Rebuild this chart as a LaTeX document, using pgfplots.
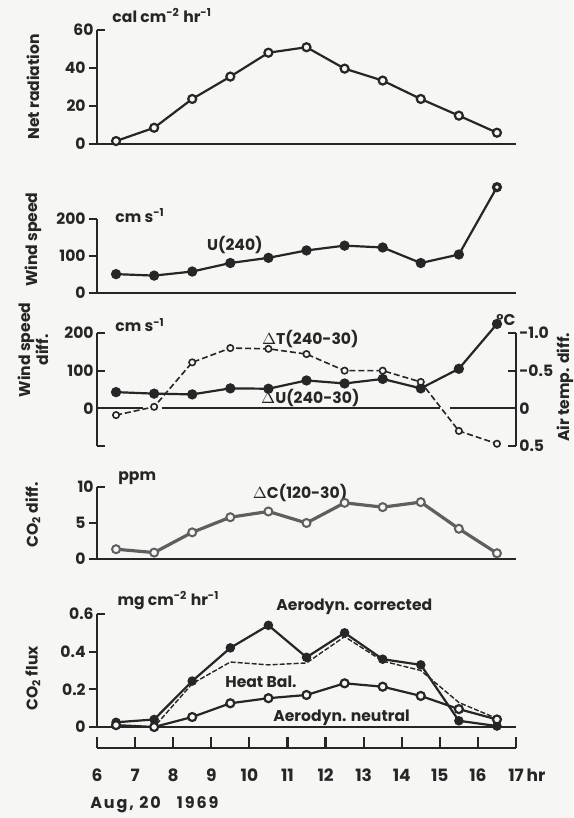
\documentclass[border=0pt]{standalone}
\usepackage{fontspec}
\setmainfont{Poppins}
\usepackage{pgfplots}
\pgfplotsset{compat=1.18}
\definecolor{ink}{RGB}{38,38,38}
\definecolor{paper}{RGB}{246,246,244}
\definecolor{co2}{RGB}{95,95,95}

\pgfplotsset{
  panel/.style={
    scale only axis, width=209.5pt, anchor=south west,
    xmin=6, xmax=17, xtick=\empty, clip=false,
    axis x line*=bottom, axis y line*=left,
    axis line style={-, line width=1.1pt, draw=ink},
    tick style={line width=1.1pt, draw=ink},
    major tick length=4pt, tick align=outside,
    yticklabel style={font=\bfseries\fontsize{7.8}{9}\selectfont, text=ink, inner sep=1.5pt},
    every axis plot/.append style={line width=1.1pt, ink},
    mark size=2pt,
  },
  topbracket/.style={extra y ticks={#1}, extra y tick labels={#1},
    extra y tick style={tick align=inside}},
}
\tikzset{lab/.style={font=\bfseries\fontsize{7.8}{9}\selectfont, text=ink, inner sep=0pt}}

\begin{document}
\begin{tikzpicture}
\path[use as bounding box, fill=paper] (0,0) rectangle (286.5pt,409pt);

% net radiation
\begin{axis}[panel, at={(48.5pt,337.15pt)}, height=56.85pt,
  ymin=0, ymax=60, ytick={0,20,40}, yticklabels={0,20,40}, topbracket=60]
\addplot[mark=*, mark options={fill=paper}] coordinates {
  (6.5,1.4) (7.5,8.4) (8.5,23.6) (9.5,35.4) (10.5,48.0) (11.5,50.9)
  (12.5,39.6) (13.5,33.3) (14.5,23.6) (15.5,14.8) (16.5,5.8)};
\node[lab, rotate=90] at (rel axis cs:-0.153,0.5) {Net radiation};
\node[lab, anchor=west] at (rel axis cs:0.036,1.13) {cal cm\textsuperscript{-2} hr\textsuperscript{-1}};
\end{axis}

% wind speed
\begin{axis}[panel, at={(48.5pt,262.5pt)}, height=37pt,
  ymin=0, ymax=200, ytick={0,100,200}, yticklabels={0,100,200}]
\addplot[mark=*] coordinates {
  (6.5,51) (7.5,47) (8.5,58) (9.5,81) (10.5,95) (11.5,115)
  (12.5,128) (13.5,123) (14.5,81) (15.5,104) (16.5,286)};
\addplot[only marks, mark=*, mark size=1.5pt, mark options={fill=paper}] coordinates {(16.5,286)};
\node[lab, rotate=90] at (rel axis cs:-0.153,0.72) {Wind speed};
\node[lab, anchor=west] at (rel axis cs:0.043,1.05) {cm s\textsuperscript{-1}};
\node[lab] at (axis cs:9.62,130) {U(240)};
\end{axis}

% wind speed difference (left scale)
\begin{axis}[panel, at={(48.5pt,186pt)}, height=56.5pt,
  axis x line=none, tick align=inside,
  ymin=-100, ymax=200, ytick={-100,0,100,200}, yticklabels={,0,100,200}]
\addplot[no marks] coordinates {(6,0) (7.2,0)};
\addplot[no marks] coordinates {(7.7,0) (15.0,0)};
\addplot[no marks] coordinates {(15.27,0) (16.9,0)};
\addplot[mark=*] coordinates {
  (6.5,43) (7.5,39) (8.5,37) (9.5,53) (10.5,52) (11.5,74)
  (12.5,66) (13.5,78) (14.5,53) (15.5,105) (16.5,224)};
\node[lab, rotate=90, align=center] at (rel axis cs:-0.153,0.85) {Wind speed\\diff.};
\node[lab, anchor=west] at (rel axis cs:0.043,1.07) {cm s\textsuperscript{-1}};
\node[lab] at (axis cs:11.6,183) {$\Delta$T(240-30)};
\node[lab, anchor=south] at (axis cs:11.6,3) {$\Delta$U(240-30)};
\end{axis}

% air temperature difference (right scale)
\begin{axis}[panel, at={(48.5pt,186pt)}, height=56.5pt,
  axis x line=none, axis y line*=right, tick align=inside, y dir=reverse,
  ymin=-1, ymax=0.5, ytick={-1,-0.5,0,0.5}, yticklabels={-1.0,-0.5,0,0.5}]
\addplot[line width=0.8pt, dash pattern=on 3pt off 1.5pt, mark=*, mark size=1.6pt,
  mark options={solid, fill=paper}] coordinates {
  (6.5,0.09) (7.5,-0.02) (8.5,-0.61) (9.5,-0.80) (10.5,-0.79) (11.5,-0.72)
  (12.5,-0.50) (13.5,-0.50) (14.5,-0.35) (15.5,0.30) (16.5,0.47)};
\node[lab, rotate=90] at (rel axis cs:1.117,0.52) {Air temp. diff.};
\node[lab] at (rel axis cs:0.976,1.115) {°C};
\end{axis}

% CO2 difference
\begin{axis}[panel, at={(48.5pt,129.5pt)}, height=36pt,
  ymin=0, ymax=10, ytick={0,5}, yticklabels={0,5}, topbracket=10]
\addplot[co2, line width=1.6pt, mark=*, mark options={fill=paper, line width=1pt}] coordinates {
  (6.5,1.36) (7.5,0.89) (8.5,3.7) (9.5,5.8) (10.5,6.6) (11.5,5.0)
  (12.5,7.8) (13.5,7.2) (14.5,7.9) (15.5,4.2) (16.5,0.8)};
\node[lab, rotate=90] at (rel axis cs:-0.153,0.61) {CO\textsubscript{2} diff.};
\node[lab, anchor=west] at (rel axis cs:0.05,1.125) {ppm};
\node[lab] at (axis cs:11.33,9.2) {$\Delta$C(120-30)};
\end{axis}

% CO2 flux
\begin{axis}[panel, at={(48.5pt,45.5pt)}, height=56.5pt,
  ymin=0, ymax=0.6, ytick={0,0.2,0.4}, yticklabels={0,0.2,0.4}, topbracket=0.6]
\addplot[line width=0.7pt, dash pattern=on 2.5pt off 1pt, no marks] coordinates {
  (6.5,0.005) (7.5,0.0) (8.5,0.23) (9.5,0.345) (10.5,0.33) (11.5,0.34)
  (12.5,0.48) (13.5,0.35) (14.5,0.30) (15.5,0.13) (16.5,0.045)};
\addplot[mark=*, mark size=1.8pt] coordinates {
  (6.5,0.025) (7.5,0.04) (8.5,0.244) (9.5,0.42) (10.5,0.54) (11.5,0.37)
  (12.5,0.50) (13.5,0.36) (14.5,0.33) (15.5,0.033) (16.5,0.005)};
\addplot[mark=*, mark options={fill=paper}] coordinates {
  (6.5,0.01) (7.5,0.0) (8.5,0.053) (9.5,0.126) (10.5,0.153) (11.5,0.17)
  (12.5,0.232) (13.5,0.214) (14.5,0.165) (15.5,0.095) (16.5,0.04)};
\node[lab, rotate=90] at (rel axis cs:-0.153,0.43) {CO\textsubscript{2} flux};
\node[lab, anchor=west] at (rel axis cs:0.048,1.12) {mg cm\textsuperscript{-2} hr\textsuperscript{-1}};
\node[lab, anchor=west] at (axis cs:10.7,0.64) {Aerodyn. corrected};
\node[lab, anchor=west] at (axis cs:9.36,0.24) {Heat Bal.};
\node[lab, anchor=west] at (axis cs:10.62,0.048) {Aerodyn. neutral};
\end{axis}

% time scale
\begin{axis}[scale only axis, width=209.5pt, height=5.5pt, anchor=south west,
  at={(48.5pt,35pt)}, xmin=6, xmax=17, ymin=0, ymax=1, clip=false,
  axis x line*=bottom, axis y line=none,
  axis line style={-, line width=1.1pt, draw=ink},
  tick style={line width=1.1pt, draw=ink},
  tick align=inside, major tick length=5.5pt,
  xtick={6,...,17},
  xticklabels={6,7,8,9,10,11,12,13,14,15,16,{17\rlap{\,hr}}},
  xticklabel style={font=\bfseries\fontsize{8.5}{10}\selectfont, text=ink, yshift=-7pt}]
\addplot[draw=none] coordinates {(6,0)};
\node[lab, anchor=west, font=\bfseries\fontsize{8}{10}\selectfont\addfontfeatures{LetterSpace=12}]
  at (rel axis cs:-0.017,-5.2) {Aug,\ 20\quad 1969};
\end{axis}
\end{tikzpicture}
\end{document}
